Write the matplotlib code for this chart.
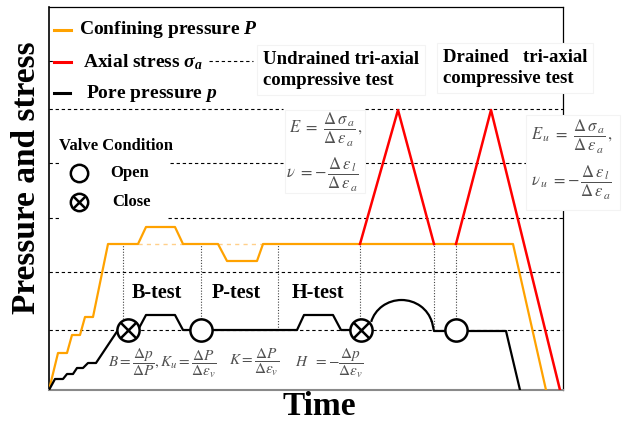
import matplotlib.pyplot as plt
from matplotlib.patches import Arc, Rectangle

plt.rcParams['font.family'] = 'Liberation Serif'
plt.rcParams['mathtext.rm'] = 'Liberation Serif:bold'
plt.rcParams['mathtext.it'] = 'Liberation Serif:italic:bold'
plt.rcParams['mathtext.bf'] = 'Liberation Serif:bold'

# time / pressure are arbitrary units (the sketch has no tick labels)
# confining pressure P
t_conf = [0, 9, 18, 23, 31, 36, 44, 59, 89, 97, 126, 134, 169, 178, 208, 214, 464, 497]
p_conf = [0, 37, 37, 55, 55, 73, 73, 146, 146, 163, 163, 146, 146, 129, 129, 146, 146, 0]

# pore pressure p (up to the closed valve of the undrained test, then after the dome)
t_pore = [0, 6, 14, 18, 24, 28, 34, 39, 47, 69, 89, 97, 126, 134, 248, 255, 284, 292, 312]
p_pore = [0, 11, 11, 16, 16, 22, 22, 27, 27, 60, 60, 75, 75, 60, 60, 75, 75, 60, 60]
t_pore2 = [383, 385, 457, 471]
p_pore2 = [68, 59, 59, 0]
dome_center = (352.5, 60)
dome_size = (63, 60)

# axial stress, undrained then drained loading
t_ax1 = [311, 349, 385]
s_ax1 = [146, 280, 146]
t_ax2 = [407, 442, 511]
s_ax2 = [146, 280, 0]

# valves
t_close = [79, 312]
t_open = [152, 407]
p_valve = 60

# dotted markers dropping from the confining plateau
t_marks = [74, 152, 229, 311, 385, 407]
p_marks_low = [71, 71, 60, 71, 63, 71]
p_plateau = 146

# dashed guide levels and where they are visible
grid_levels = [329, 281, 227, 172, 118, 60]
grid_spans = [[(0, 4), (160, 204)],
              [(0, 234), (316, 514)],
              [(0, 10), (121, 234), (316, 491)],
              [(0, 10), (119, 514)],
              [(0, 514)],
              [(0, 514)]]

ORANGE = '#ffa200'
RED = '#ff0000'
GRAY = '#505050'
EDGE = '#f3f3f3'

fig = plt.figure(figsize=(6.26, 4.23), dpi=100)
ax = fig.add_axes([49 / 626, 33 / 423, 514 / 626, 383 / 423])
ax.set_xlim(0, 514)
ax.set_ylim(0, 383)
ax.set_xticks([])
ax.set_yticks([])
for side in ['top', 'right']:
    ax.spines[side].set_linewidth(0.9)
ax.spines['left'].set_linewidth(1.2)
ax.spines['bottom'].set_color('#8a8a8a')
ax.spines['bottom'].set_linewidth(1.5)

# dashed levels
for level, spans in zip(grid_levels, grid_spans):
    for a, b in spans:
        ax.plot([a, b], [level, level], color='black', lw=0.8, ls=(0, (3, 2.5)), zorder=1)

# faint original plateau under the B and P steps
ax.plot([89, 134], [p_plateau, p_plateau], color='#ffd08a', lw=1.0, ls=(0, (3, 3)), zorder=1)
ax.plot([169, 214], [p_plateau, p_plateau], color='#ffd08a', lw=1.0, ls=(0, (3, 3)), zorder=1)

# dotted verticals
ax.vlines(t_marks, p_marks_low, p_plateau, colors='#444444', linestyles=(0, (1, 1.5)), lw=0.8, zorder=1)

# curves
ax.plot(t_conf, p_conf, color=ORANGE, lw=1.6, zorder=3)
ax.plot(t_pore, p_pore, color='black', lw=1.6, zorder=3)
ax.add_patch(Arc(dome_center, dome_size[0], dome_size[1], theta1=15, theta2=165,
                 color='black', lw=1.6, zorder=3))
ax.plot(t_pore2, p_pore2, color='black', lw=1.6, zorder=3)
ax.plot(t_ax1, s_ax1, color=RED, lw=1.8, zorder=4)
ax.plot(t_ax2, s_ax2, color=RED, lw=1.8, zorder=4)

# valves
ax.plot(t_close, [p_valve] * len(t_close), ls='none', marker='o', ms=16, mfc='white',
        mec='black', mew=1.8, zorder=5)
ax.plot(t_close, [p_valve] * len(t_close), ls='none', marker='x', ms=11, mec='black',
        mew=1.8, zorder=6)
ax.plot(t_open, [p_valve] * len(t_open), ls='none', marker='o', ms=16, mfc='white',
        mec='black', mew=1.8, zorder=5)

# legend (drawn by hand like the original)
ax.plot([5, 22], [360, 360], color=ORANGE, lw=2.2, clip_on=False)
ax.plot([5, 22], [328, 328], color=RED, lw=2.2, clip_on=False)
ax.plot([5, 21], [297, 297], color='black', lw=2.2, clip_on=False)
ax.text(30, 360, 'Confining pressure $P$', fontsize=14, fontweight='bold', va='center',
        math_fontfamily='custom')
ax.text(34, 328, r'Axial stress $\sigma_a$', fontsize=14, fontweight='bold', va='center',
        math_fontfamily='custom')
ax.text(37, 297, 'Pore pressure $p$', fontsize=14, fontweight='bold', va='center',
        math_fontfamily='custom')

ax.text(10, 244, 'Valve Condition', fontsize=12, fontweight='bold', va='center')
ax.plot([30], [217], marker='o', ms=12.5, mfc='white', mec='black', mew=1.8, clip_on=False)
ax.plot([30], [188], marker='o', ms=12.5, mfc='white', mec='black', mew=1.8, clip_on=False)
ax.plot([30], [188], marker='x', ms=8.8, mec='black', mew=1.8, clip_on=False)
ax.text(61, 217, 'Open', fontsize=12, fontweight='bold', va='center')
ax.text(63, 188, 'Close', fontsize=12, fontweight='bold', va='center')

# test names
box = dict(boxstyle='square,pad=0.3', fc='white', ec=EDGE, lw=0.8)
ax.text(214, 320, 'Undrained tri-axial\ncompressive test', fontsize=13.5, fontweight='bold',
        va='center', linespacing=1.3, bbox=box, zorder=3)
ax.text(394, 322, 'Drained   tri-axial\ncompressive test', fontsize=13.5, fontweight='bold',
        va='center', linespacing=1.3, bbox=box, zorder=3)
ax.text(83, 97, 'B-test', fontsize=14.5, fontweight='bold', va='center')
ax.text(163, 97, 'P-test', fontsize=14.5, fontweight='bold', va='center')
ax.text(243, 97, 'H-test', fontsize=14.5, fontweight='bold', va='center')

# formulas
frac_E = r'\dfrac{\Delta\,\sigma_{\,a}}{\Delta\,\varepsilon_{\,a}}'
frac_nu = r'\dfrac{\Delta\,\varepsilon_{\,l}}{\Delta\,\varepsilon_{\,a}}'
ax.add_patch(Rectangle((236, 197), 80, 83, fc='white', ec=EDGE, lw=0.8, zorder=2))
ax.text(240, 260, r'$E\ =\ ' + frac_E + r'\,,$', fontsize=12, color=GRAY,
        va='center', math_fontfamily='stix', zorder=3)
ax.text(237, 215, r'$\nu\ =-\,' + frac_nu + r'$', fontsize=12, color=GRAY,
        va='center', math_fontfamily='stix', zorder=3)
ax.add_patch(Rectangle((477, 180), 94, 95, fc='white', ec=EDGE, lw=0.8, zorder=2.7,
                       clip_on=False))
ax.text(482, 253, r'$E_{\,u}\ =\ ' + frac_E + r'\,,$', fontsize=12, color=GRAY,
        va='center', math_fontfamily='stix', zorder=3)
ax.text(482, 207, r'$\nu_{\,u}\ =-\,' + frac_nu + r'$', fontsize=12, color=GRAY,
        va='center', math_fontfamily='stix', zorder=3)
ax.text(59, 27, r'$B=\dfrac{\Delta p}{\Delta P},K_u=\dfrac{\Delta P}{\Delta\varepsilon_v}$', fontsize=11,
        color=GRAY, va='center', math_fontfamily='stix')
ax.text(180, 27, r'$K=\dfrac{\Delta P}{\Delta\varepsilon_v}$', fontsize=11, color=GRAY, va='center',
        math_fontfamily='stix')
ax.text(246, 27, r'$H\ \ =-\dfrac{\Delta p}{\Delta\varepsilon_v}$', fontsize=11, color=GRAY, va='center',
        math_fontfamily='stix')

# axis titles
fig.text(27 / 626, 1 - 178 / 423, 'Pressure and stress', rotation=90, fontsize=24,
         fontweight='bold', ha='center', va='center')
fig.text(319 / 626, 1 - 406 / 423, 'Time', fontsize=24, fontweight='bold', ha='center', va='center')

fig.savefig('out.png', dpi=100)
